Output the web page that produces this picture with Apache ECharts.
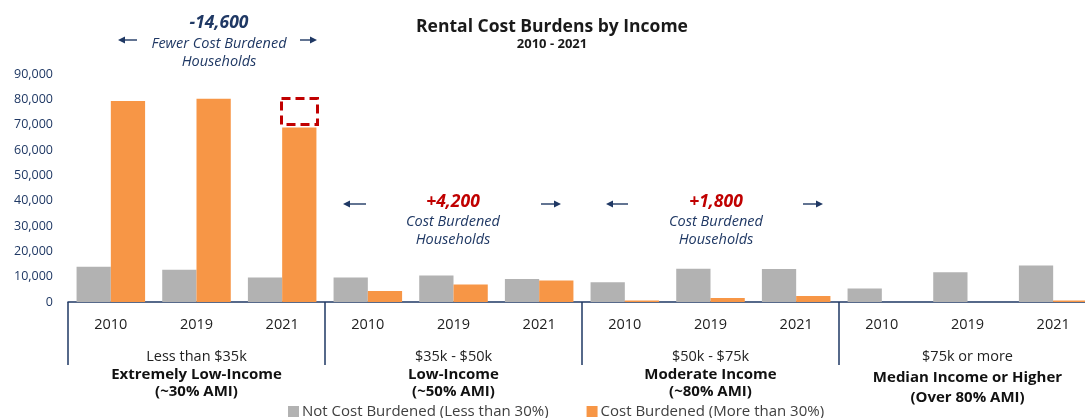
<!DOCTYPE html>
<html>
<head>
<meta charset="UTF-8">
<title>Rental Cost Burdens by Income</title>
<script src="https://cdn.jsdelivr.net/npm/echarts/dist/echarts.min.js"></script>
<style>
  html, body { margin: 0; padding: 0; background: #fff; }
</style>
</head>
<body>
<div id="main" style="width:1085px;height:418px;"></div>
<script type="text/javascript">
// data
var years = ['2010', '2019', '2021', '2010', '2019', '2021', '2010', '2019', '2021', '2010', '2019', '2021'];
var incomeRanges = ['Less than $35k', '$35k - $50k', '$50k - $75k', '$75k or more'];
var incomeGroups = ['Extremely Low-Income', 'Low-Income', 'Moderate Income', 'Median Income or Higher'];
var amiLabels = ['(~30% AMI)', '(~50% AMI)', '(~80% AMI)', '(Over 80% AMI)'];
var notBurdened = [13900, 12700, 9700, 9700, 10500, 9100, 7800, 13100, 13000, 5300, 11700, 14400];
var burdened = [79300, 80200, 68900, 4300, 6900, 8500, 600, 1600, 2400, 0, 0, 600];
var yTicks = { min: 0, max: 90000, interval: 10000 };

var navy = '#1f3864';
var red = '#c00000';
var font = '"Open Sans", sans-serif';

function arrow(x1, x2, y) {
  var dir = x2 > x1 ? 1 : -1;
  return {
    type: 'group',
    children: [
      { type: 'line', shape: { x1: x1, y1: y, x2: x2 - dir * 5, y2: y }, style: { stroke: navy, lineWidth: 1.4 } },
      { type: 'polygon', shape: { points: [[x2, y], [x2 - dir * 7, y - 3.5], [x2 - dir * 7, y + 3.5]] }, style: { fill: navy } }
    ]
  };
}

// centred annotation block: x is the centre, y the top
function note(x, y, big, bigColor, lines, gap) {
  return {
    type: 'text', x: x, y: y,
    style: {
      text: '{n|' + big + '}\n' + lines.map(function (l) { return '{s|' + l + '}'; }).join('\n'),
      align: 'center',
      verticalAlign: 'top',
      rich: {
        n: { fontFamily: font, fontSize: 17.5, fontWeight: 'bold', fontStyle: 'italic', fill: bigColor, lineHeight: gap, align: 'center' },
        s: { fontFamily: font, fontSize: 14.5, fontStyle: 'italic', fill: navy, lineHeight: 18, align: 'center' }
      }
    }
  };
}

var chart = echarts.init(document.getElementById('main'));

var option = {
  animation: false,
  textStyle: { fontFamily: font },
  title: {
    text: 'Rental Cost Burdens by Income',
    subtext: '2010 - 2021',
    left: 547, top: 13, textAlign: 'center', itemGap: 2,
    textStyle: { fontFamily: font, fontSize: 17.5, fontWeight: 'bold', color: '#1a1a1a' },
    subtextStyle: { fontFamily: font, fontSize: 13, fontWeight: 'bold', color: '#1a1a1a' }
  },
  legend: {
    left: 283, top: 399,
    itemWidth: 11, itemHeight: 11, itemGap: 38,
    icon: 'rect',
    textStyle: { fontFamily: font, fontSize: 15, color: '#404040', padding: [0, 0, 0, -2] },
    data: ['Not Cost Burdened (Less than 30%)', 'Cost Burdened (More than 30%)']
  },
  grid: { left: 68, width: 1028, top: 74, bottom: 116, containLabel: false, outerBoundsMode: 'none' },
  xAxis: [
    {
      type: 'category',
      data: years,
      axisLine: { lineStyle: { color: navy, width: 1.5 } },
      axisTick: { show: false },
      axisLabel: { color: '#222', fontSize: 14.5, margin: 15, interval: 0 }
    },
    {
      type: 'category',
      data: incomeRanges,
      position: 'bottom',
      axisLine: { show: false },
      axisTick: { show: true, length: 63, lineStyle: { color: navy, width: 1.5 } },
      axisLabel: {
        interval: 0, margin: 45,
        formatter: function (v, i) {
          if (i === 3) {
            return '{s|' + v + '}\n{b2|' + incomeGroups[i] + '}\n{b|' + amiLabels[i] + '}';
          }
          return '{s|' + v + '}\n{b|' + incomeGroups[i] + '}\n{b|' + amiLabels[i] + '}';
        },
        rich: {
          s: { fontFamily: font, fontSize: 14.5, color: '#222', lineHeight: 19 },
          b: { fontFamily: font, fontSize: 15, fontWeight: 'bold', color: '#111', lineHeight: 17 },
          b2: { fontFamily: font, fontSize: 15, fontWeight: 'bold', color: '#111', lineHeight: 23 }
        }
      }
    }
  ],
  yAxis: {
    type: 'value',
    min: yTicks.min, max: yTicks.max, interval: yTicks.interval,
    axisLine: { show: false },
    axisTick: { show: false },
    splitLine: { show: false },
    axisLabel: {
      color: navy, fontSize: 12.5, margin: 15,
      formatter: function (v) { return v.toLocaleString('en-US'); }
    }
  },
  series: [
    {
      name: 'Not Cost Burdened (Less than 30%)',
      type: 'bar',
      data: notBurdened,
      barGap: '0%',
      barCategoryGap: '20%',
      itemStyle: { color: '#b2b2b2' }
    },
    {
      name: 'Cost Burdened (More than 30%)',
      type: 'bar',
      data: burdened,
      itemStyle: { color: '#f79646' }
    }
  ],
  graphic: [
    note(219, 12, '-14,600', navy, ['Fewer Cost Burdened', 'Households'], 23),
    arrow(137, 118, 40),
    arrow(300, 317, 40),
    note(453, 192, '+4,200', red, ['Cost Burdened', 'Households'], 21),
    arrow(366, 343, 204),
    arrow(541, 561, 204),
    note(716, 192, '+1,800', red, ['Cost Burdened', 'Households'], 21),
    arrow(628, 606, 204),
    arrow(803, 823, 204),
    {
      type: 'rect',
      shape: { x: 281.5, y: 98.5, width: 36, height: 26 },
      style: { fill: 'none', stroke: red, lineWidth: 3, lineDash: [9, 5] }
    }
  ]
};

chart.setOption(option);
</script>
</body>
</html>
